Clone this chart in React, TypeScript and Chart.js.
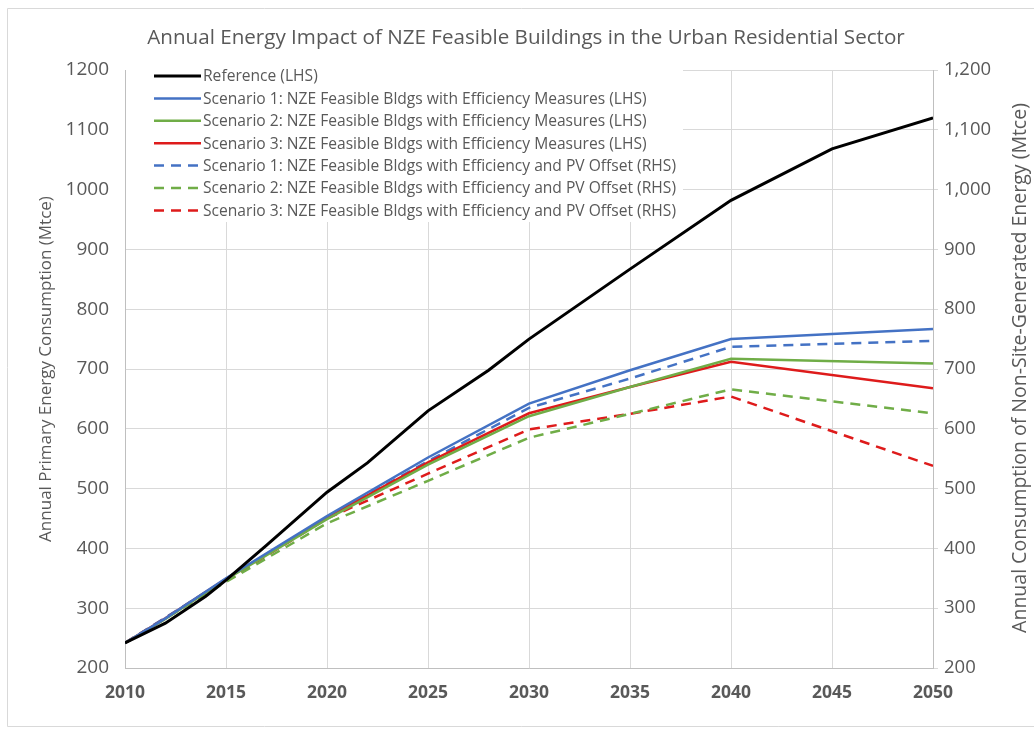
import React, { useEffect, useRef } from "react";
import { Chart, registerables } from "chart.js";

Chart.register(...registerables);

const TITLE = "Annual Energy Impact of NZE Feasible Buildings in the Urban Residential Sector";
const LEFT_TITLE = "Annual Primary Energy Consumption (Mtce)";
const RIGHT_TITLE = "Annual Consumption of Non-Site-Generated Energy (Mtce)";

const referenceYears = [2010, 2012, 2014, 2015, 2017, 2020, 2022, 2025, 2028, 2030, 2035, 2040, 2045, 2050];
const referenceValues = [242, 275, 320, 347, 405, 494, 543, 630, 698, 750, 867, 982, 1068, 1120];

const scenarioYears = [2010, 2012, 2015, 2020, 2025, 2030, 2035, 2040, 2050];
const s1Eff = [242, 283, 350, 454, 552, 642, 698, 750, 767];
const s2Eff = [242, 282, 348, 449, 540, 621, 670, 717, 709];
const s3Eff = [242, 283, 349, 452, 544, 626, 670, 712, 668];

const pvYears = [2010, 2015, 2020, 2025, 2030, 2035, 2040, 2050];
const s1PV = [242, 348, 452, 546, 635, 684, 737, 747];
const s2PV = [242, 344, 442, 513, 585, 625, 666, 626];
const s3PV = [242, 346, 450, 525, 599, 625, 654, 538];

const labels = [
  "Reference (LHS)",
  "Scenario 1: NZE Feasible Bldgs with Efficiency Measures (LHS)",
  "Scenario 2: NZE Feasible Bldgs with Efficiency Measures (LHS)",
  "Scenario 3: NZE Feasible Bldgs with Efficiency Measures (LHS)",
  "Scenario 1: NZE Feasible Bldgs with Efficiency and PV Offset (RHS)",
  "Scenario 2: NZE Feasible Bldgs with Efficiency and PV Offset (RHS)",
  "Scenario 3: NZE Feasible Bldgs with Efficiency and PV Offset (RHS)",
];

const BLACK = "#000000";
const BLUE = "#4472C4";
const GREEN = "#70AD47";
const RED = "#DE1B1B";
const TEXT = "#595959";
const FONT = "'Open Sans', 'Noto Sans', sans-serif";

const pts = (xs: number[], ys: number[]) => xs.map((x, i) => ({ x, y: ys[i] }));

const legendPlugin = {
  id: "customLegend",
  afterDatasetsDraw(chart: any) {
    const ctx = chart.ctx;
    const area = chart.chartArea;
    ctx.save();
    ctx.fillStyle = "#ffffff";
    ctx.fillRect(area.left + 1, area.top - 4, 557, 156);
    const rowH = 22.4;
    const y0 = area.top + 6;
    chart.data.datasets.forEach((ds: any, i: number) => {
      const y = y0 + i * rowH;
      ctx.beginPath();
      ctx.strokeStyle = ds.borderColor;
      ctx.lineWidth = ds.borderWidth;
      ctx.setLineDash(ds.borderDash || []);
      ctx.moveTo(area.left + 29, y);
      ctx.lineTo(area.left + 76, y);
      ctx.stroke();
      ctx.setLineDash([]);
      ctx.fillStyle = TEXT;
      ctx.font = `15.6px ${FONT}`;
      ctx.textBaseline = "middle";
      ctx.textAlign = "left";
      ctx.fillText(ds.label, area.left + 78, y + 1);
    });
    ctx.restore();
  },
};

const framePlugin = {
  id: "frame",
  afterDraw(chart: any) {
    const ctx = chart.ctx;
    ctx.save();
    ctx.strokeStyle = "#D9D9D9";
    ctx.lineWidth = 1;
    ctx.beginPath();
    ctx.moveTo(1040, 8.5);
    ctx.lineTo(7.5, 8.5);
    ctx.lineTo(7.5, 726.5);
    ctx.lineTo(1040, 726.5);
    ctx.stroke();
    // chart title
    ctx.fillStyle = TEXT;
    ctx.font = `20.6px ${FONT}`;
    ctx.textAlign = "center";
    ctx.textBaseline = "middle";
    ctx.fillText(TITLE, 526, 38);
    // right axis title, reading bottom to top
    ctx.translate(1020, 368);
    ctx.rotate(-Math.PI / 2);
    ctx.font = `19.5px ${FONT}`;
    ctx.fillText(RIGHT_TITLE, 0, 0);
    ctx.restore();
  },
};

export default function App() {
  const ref = useRef<HTMLCanvasElement | null>(null);
  useEffect(() => {
    if (!ref.current) return;
    document.body.style.margin = "0";
    const mk = (label: string, data: any[], color: string, width: number, dash: number[] | undefined, axis: string) => ({
      label,
      data,
      borderColor: color,
      backgroundColor: color,
      borderWidth: width,
      borderDash: dash,
      pointRadius: 0,
      tension: 0,
      fill: false,
      yAxisID: axis,
    });
    const chart = new Chart(ref.current, {
      type: "line",
      data: {
        datasets: [
          mk(labels[0], pts(referenceYears, referenceValues), BLACK, 3, undefined, "y"),
          mk(labels[1], pts(scenarioYears, s1Eff), BLUE, 2.5, undefined, "y"),
          mk(labels[2], pts(scenarioYears, s2Eff), GREEN, 2.5, undefined, "y"),
          mk(labels[3], pts(scenarioYears, s3Eff), RED, 2.5, undefined, "y"),
          mk(labels[4], pts(pvYears, s1PV), BLUE, 2.5, [10, 7], "y1"),
          mk(labels[5], pts(pvYears, s2PV), GREEN, 2.5, [10, 7], "y1"),
          mk(labels[6], pts(pvYears, s3PV), RED, 2.5, [10, 7], "y1"),
        ],
      },
      options: {
        animation: false,
        responsive: false,
        maintainAspectRatio: false,
        layout: { padding: { top: 70, left: 0, right: 0, bottom: 0 } },
        plugins: {
          legend: { display: false },
          tooltip: { enabled: false },
          title: { display: false },
        },
        scales: {
          x: {
            type: "linear",
            min: 2010,
            max: 2050,
            ticks: {
              stepSize: 5,
              color: TEXT,
              font: { family: FONT, size: 17.5, weight: "bold" },
              padding: 15,
              maxRotation: 0,
              callback: (v: any) => String(v),
            },
            grid: { color: "#D9D9D9", drawTicks: false },
            border: { color: "#BFBFBF" },
            afterFit: (s: any) => { s.height = 61; },
          },
          y: {
            position: "left",
            min: 200,
            max: 1200,
            ticks: {
              stepSize: 100,
              color: TEXT,
              font: { family: FONT, size: 19 },
              padding: 16,
              callback: (v: any) => String(v),
            },
            grid: { color: "#D9D9D9", drawTicks: false },
            border: { color: "#BFBFBF" },
            title: {
              display: true,
              text: LEFT_TITLE,
              color: TEXT,
              font: { family: FONT, size: 17 },
              padding: { top: 36, bottom: 0 },
            },
            afterFit: (s: any) => { s.width = 125; },
          },
          y1: {
            position: "right",
            min: 200,
            max: 1200,
            ticks: {
              stepSize: 100,
              color: TEXT,
              font: { family: FONT, size: 18.5 },
              padding: 6,
              callback: (v: any) => Number(v).toLocaleString("en-US"),
            },
            grid: { drawOnChartArea: false, color: "#D9D9D9", tickLength: 5 },
            border: { color: "#BFBFBF" },
            afterFit: (s: any) => { s.width = 101; },
          },
        },
      },
      plugins: [legendPlugin, framePlugin],
    });
    return () => chart.destroy();
  }, []);
  return (
    <div style={{ position: "fixed", left: 0, top: 0, width: 1034, height: 729, background: "#fff" }}>
      <canvas ref={ref} width={1034} height={729} />
    </div>
  );
}
